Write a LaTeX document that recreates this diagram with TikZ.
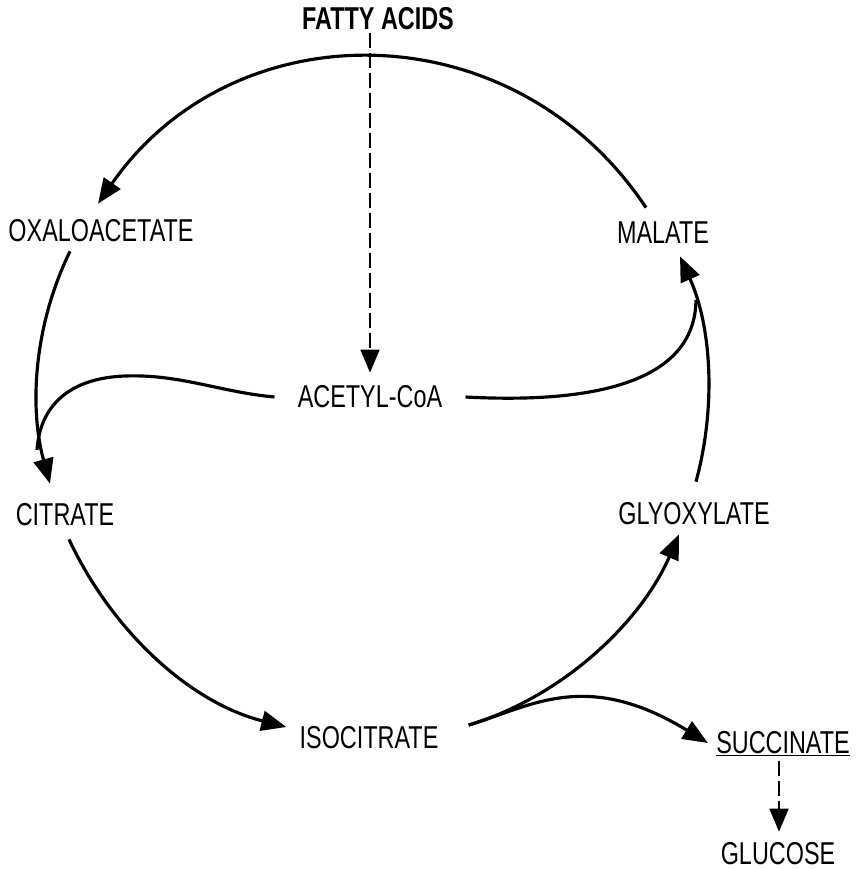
\documentclass[tikz,border=0pt]{standalone}
\usepackage{fontspec}
\setmainfont[FakeStretch=0.74]{Liberation Sans}
\usetikzlibrary{arrows.meta}
\usetikzlibrary{calc}

\begin{document}
\begin{tikzpicture}[x=0.02cm, y=-0.02cm,
  metab/.style={inner sep=0pt, text height=0.44cm, text depth=0pt, font=\fontsize{18}{20}\selectfont},
  flow/.style={line width=1.8pt, -{Triangle[length=0.5cm,width=0.4cm]}},
  merge/.style={line width=1.8pt},
  feed/.style={line width=1pt, dash pattern=on 0.3cm off 0.1cm, -{Triangle[length=0.46cm,width=0.38cm]}}]

\useasboundingbox (0,0) rectangle (856,869);

% nodes
{
\node (fa) at (378,19) [metab, font=\fontsize{18}{20}\selectfont\bfseries] {FATTY ACIDS};
\node (ox) at (101,230) [metab] {OXALOACETATE};
\node (mal) at (663,232) [metab] {MALATE};
\node (ac) at (370,396) [metab] {ACETYL-CoA};
\node (cit) at (65,514) [metab] {CITRATE};
\node (gly) at (694,513) [metab] {GLYOXYLATE};
\node (iso) at (369,737) [metab] {ISOCITRATE};
\node (suc) at (783,742) [metab] {\underline{SUCCINATE}};
\node (glu) at (778,853) [metab] {GLUCOSE};
}

% merge points
\coordinate (jl) at (37,450);
\coordinate (jr) at (696,300);

% cycle
\draw[flow] ($(mal.north)+(-17,-13)$) .. controls (514,9) and (234,8) .. ($(ox.north)+(-3,-15)$);
\draw[flow] ($(ox.south)+(-31,10)$) .. controls (34,325) and (29,407) .. ($(cit.north)+(-15,-19)$);
\draw[flow] ($(cit.south)+(4,14)$) .. controls (111,629) and (188,702) .. ($(iso.west)+(-13,-10)$);
\draw[flow] ($(iso.east)+(30,-12)$) .. controls (565,696) and (642,620) .. ($(gly.south)+(-15,10)$);
\draw[flow] ($(gly.north)+(2,-20)$) .. controls (716,408) and (712,328) .. ($(mal.south)+(17,13)$);

% branches
\draw[flow] ($(iso.east)+(30,-12)$) .. controls (530,707) and (585,668) .. ($(suc.west)+(-8,1)$);
\draw[merge] ($(ac.west)+(-23,1)$) .. controls (220,392) and (180,374) .. (125,376) .. controls (70,378) and (40,405) .. (jl);
\draw[merge] ($(ac.east)+(23,1)$) .. controls (560,402) and (695,395) .. (jr);

% dashed
\draw[feed] ($(fa.south -| ac.north)+(0,3)$) -- ($(ac.north)+(0,-12)$);
\draw[feed] ($(suc.south -| glu.north)+(1,8)$) -- ($(glu.north)+(1,-10)$);

\end{tikzpicture}
\end{document}
